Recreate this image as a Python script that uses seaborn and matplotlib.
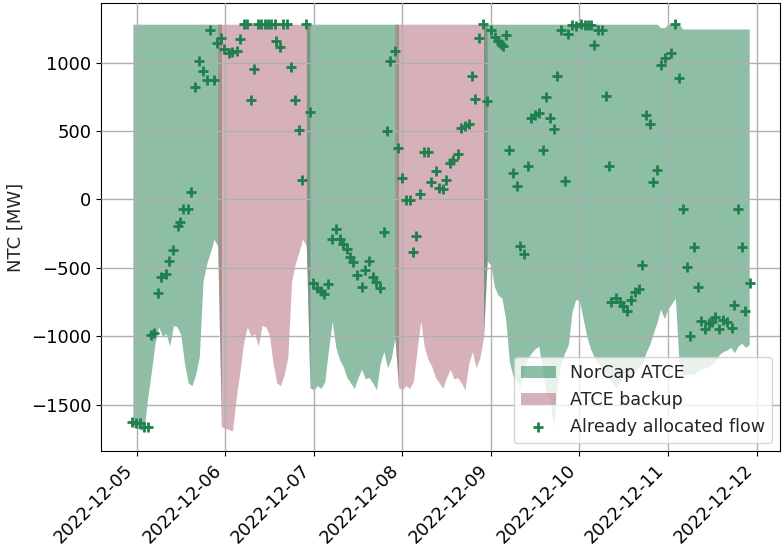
import numpy as np
import pandas as pd
import matplotlib
matplotlib.use("Agg")
import matplotlib.pyplot as plt
import matplotlib.dates as mdates
import seaborn as sns

# hourly ATCE band, first hour 2022-12-04 23:00, one block of 24 h per day
first_hour = pd.Timestamp("2022-12-04 23:00")
day_source = ["NorCap", "backup", "NorCap", "backup", "NorCap", "NorCap", "NorCap"]

low_dec05 = [-1660, -1670, -1680, -1690, -1450, -1260, -1050, -930, -1000, -980, -1070, -920,
             -930, -990, -1200, -1340, -1360, -1280, -1150, -600, -470, -385, -290, -340]
low_dec06 = [-1660, -1670, -1680, -1690, -1450, -1260, -1050, -930, -1000, -980, -1070, -920,
             -930, -990, -1200, -1340, -1360, -1280, -1150, -600, -470, -385, -290, -340]
low_dec07 = [-1375, -1390, -1360, -1380, -1330, -1100, -890, -1080, -1170, -1220, -1300, -1340,
             -1380, -1300, -1240, -1310, -1300, -1340, -1390, -1200, -1110, -1230, -1160, -1010]
low_dec08 = [-1375, -1390, -1360, -1380, -1330, -1100, -890, -1080, -1170, -1220, -1300, -1340,
             -1380, -1300, -1240, -1310, -1300, -1340, -1390, -1200, -1110, -1230, -1160, -1010]
low_dec09 = [-450, -480, -640, -700, -720, -870, -1180, -1290, -1330, -1360, -1250, -1160,
             -1120, -1090, -1070, -1250, -1420, -1450, -1660, -1350, -1200, -1120, -1060, -820]
low_dec10 = [-730, -740, -870, -1000, -1090, -1150, -1200, -1210, -1260, -1310, -1340, -1370,
             -1330, -1290, -1310, -1300, -1260, -1220, -1200, -1120, -1060, -980, -900, -800]
low_dec11 = [-870, -800, -760, -720, -1200, -1280, -1280, -1270, -1280, -1260, -1240, -1230,
             -1220, -1200, -1170, -1130, -1110, -1100, -1080, -1120, -1070, -1050, -1080, -1060]

high_dec05_10 = [1280] * 143
high_dec11 = [1255, 1255, 1280, 1280, 1280, 1280] + [1245] * 19

# already allocated flow, hours after 2022-12-05 00:00
flow_hours = [
    -1.3, -0.2, 0.9, 2.0, 3.0, 3.9, 4.8, 5.8, 6.7, 7.9, 8.8, 10.0, 11.1, 11.7, 12.7, 13.9,
    14.8, 15.9, 16.9, 18.0, 19.0, 19.9, 20.9, 21.9, 22.8,
    23.8, 25.0, 25.9, 27.1, 28.0, 29.2, 30.0, 30.9, 31.9, 32.9, 33.8, 34.7, 35.6, 36.5, 37.4,
    37.9, 38.9, 39.7, 40.8, 41.8, 43.0, 43.9, 44.8, 46.0, 46.9,
    47.9, 49.0, 49.9, 50.8, 52.0, 52.9, 54.1, 55.1, 56.0, 57.0, 57.7, 58.7, 59.8, 61.0, 61.9,
    63.0, 64.0, 64.9, 66.0, 67.0, 67.9, 68.8, 70.0, 70.9, 71.8,
    73.1, 74.0, 74.9, 75.8, 76.9, 77.8, 79.0, 79.9, 81.1, 81.9, 83.0, 83.9, 84.8, 85.7, 87.0,
    87.9, 89.0, 90.0, 90.9, 91.8, 92.9, 93.8, 94.9,
    96.1, 97.1, 97.9, 98.7, 99.2, 100.1, 101.0, 102.1, 103.1, 103.8, 105.1, 106.0, 106.9,
    107.9, 109.0, 110.0, 111.0, 112.1, 113.0, 114.0, 115.0, 116.1, 116.9, 117.9, 119.1,
    120.5, 121.4, 122.3, 123.2, 124.0, 124.9, 126.2, 127.1, 128.0, 128.6, 129.8, 131.0,
    131.9, 133.0, 134.1, 135.1, 136.1, 137.0, 138.0, 139.1, 140.0, 141.1, 142.2, 143.3,
    144.7, 146.0, 146.9,
    148.1, 149.1, 150.0, 151.0, 152.1, 152.9, 154.1, 155.0, 155.9, 156.8, 157.7, 159.0,
    159.9, 161.3, 162.0, 163.1, 164.0, 165.0, 166.1,
]
flow_mw = [
    -1625, -1635, -1630, -1665, -1665, -990, -978, -681, -567, -543, -447, -367, -193, -164,
    -72, -72, 53, 821, 1012, 936, 869, 1241, 869, 1145, 1181,
    1099, 1067, 1074, 1081, 1169, 1284, 1284, 729, 953, 1284, 1284, 1284, 1284, 1284, 1284,
    1157, 1110, 1284, 1284, 969, 729, 511, 145, 1284, 640,
    -608, -650, -671, -688, -616, -290, -217, -285, -326, -362, -422, -458, -550, -640, -518,
    -446, -566, -602, -646, -236, 501, 1012, 1085, 374, 157,
    -5, -5, -386, -265, 43, 349, 349, 130, 205, 82, 75, 145, 265, 289, 335,
    520, 533, 550, 905, 735, 1177, 1284, 718,
    1241, 1183, 1157, 1135, 1120, 1203, 360, 193, 96, -340, -400, 247, 598,
    615, 631, 360, 748, 598, 518, 899, 1241, 135, 1208, 1272, 1268,
    1284, 1277, 1277, 1277, 1130, 1241, 1241, 754, 241, -747, -718, -752,
    -779, -815, -735, -675, -651, -478, 616, 551, 125, 217, 983, 1036,
    1066, 1284, 889,
    -67, -495, -995, -345, -640, -884, -949, -901, -894, -857, -947, -880,
    -892, -936, -773, -67, -345, -814, -611,
]

green = "#1f7f4d"
pink = "#b16575"

low = np.array(low_dec05 + low_dec06 + low_dec07 + low_dec08 + low_dec09 + low_dec10 + low_dec11)
high = np.array(high_dec05_10 + high_dec11)
hours = pd.date_range(first_hour, periods=len(low), freq="h")
source = np.repeat(day_source, 24)

flow = pd.DataFrame({
    "time": pd.Timestamp("2022-12-05") + pd.to_timedelta(flow_hours, unit="h"),
    "flow": flow_mw,
})

sns.set_style("ticks", {"axes.grid": True, "grid.color": "#b0b0b0",
                        "axes.edgecolor": "black", "xtick.color": "black",
                        "ytick.color": "black"})
plt.rcParams["font.family"] = ["DejaVu Sans"]
plt.rcParams["font.size"] = 13

fig, ax = plt.subplots(figsize=(7.82, 5.47), dpi=100)
fig.subplots_adjust(left=0.129, right=0.998, top=0.994, bottom=0.175)

# contiguous runs of the same source, each drawn one hour into its neighbours
runs = []
start = 0
for i in range(1, len(source) + 1):
    if i == len(source) or source[i] != source[start]:
        runs.append((start, i - 1, source[start]))
        start = i

labels_done = set()
for a, b, src in runs:
    lo_i = max(a - 1, 0)
    hi_i = min(b + 1, len(low) - 1)
    sl = slice(lo_i, hi_i + 1)
    name = "NorCap ATCE" if src == "NorCap" else "ATCE backup"
    col = green if src == "NorCap" else pink
    ax.fill_between(hours[sl], low[sl], high[sl], color=col, alpha=0.5, linewidth=0,
                    label=None if name in labels_done else name, zorder=1)
    labels_done.add(name)

sns.scatterplot(data=flow, x="time", y="flow", marker="+", s=60, color=green,
                linewidth=2, ax=ax, label="Already allocated flow", zorder=3)

ax.xaxis.set_major_locator(mdates.DayLocator())
ax.xaxis.set_major_formatter(mdates.DateFormatter("%Y-%m-%d"))
plt.setp(ax.get_xticklabels(), rotation=45, ha="right", fontsize=12.8)
ax.set_xlabel("")
ax.set_ylabel("NTC [MW]")
ax.set_axisbelow(False)
ax.grid(True, color="#b0b0b0", linewidth=1, zorder=2)
ax.legend(loc="lower right", fontsize=12.6)

fig.savefig("out.png", dpi=100)
